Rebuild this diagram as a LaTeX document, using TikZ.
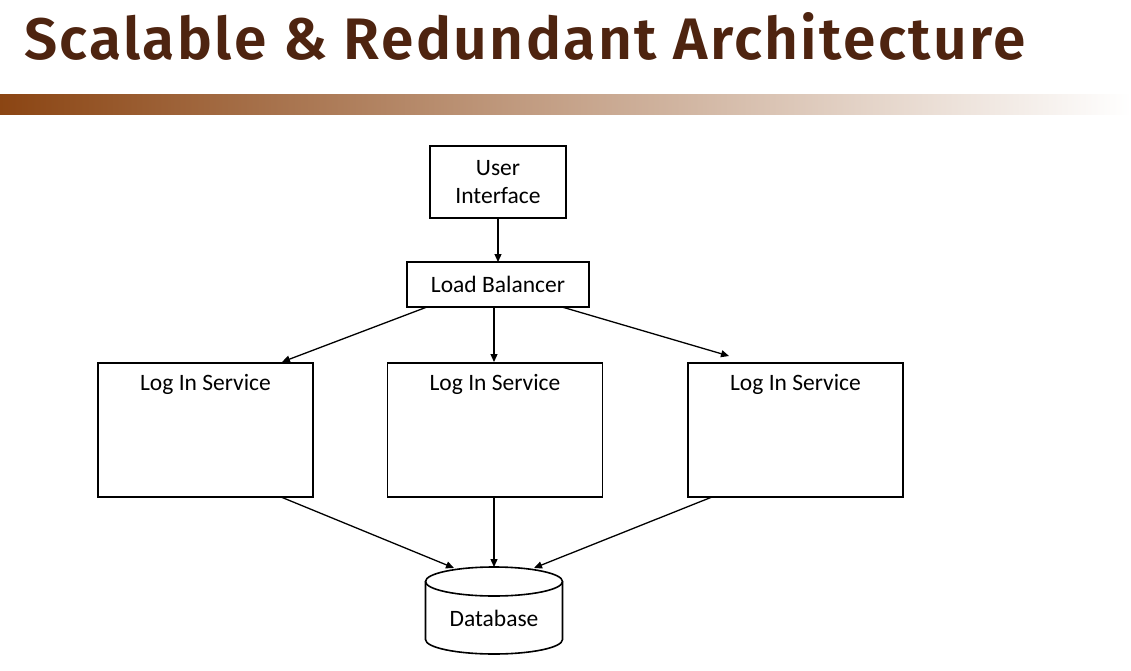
\documentclass[tikz,border=0pt]{standalone}
\usepackage{fontspec}
\setmainfont{Carlito}
\newfontfamily\titlefont{Fira Sans SemiBold}[LetterSpace=4]
\usetikzlibrary{calc,arrows.meta}
\definecolor{titlebrown}{HTML}{4E2410}
\definecolor{barbrown}{HTML}{8B4513}
\begin{document}
\begin{tikzpicture}[x=1pt,y=-1pt,
  box/.style={draw,line width=1.8pt,inner sep=0pt,outer sep=0pt},
  lbl/.style={inner sep=0pt,font=\fontsize{23.5}{28}\selectfont},
  conn/.style={line width=1.3pt,-{Triangle[length=8pt,width=7pt]}}]
\useasboundingbox (0,0) rectangle (1131,671);
\fill[white] (0,0) rectangle (1131,671);
% title
\node[anchor=base west,inner sep=0pt,text=titlebrown] (title) at (24,60)
  {\resizebox{1001pt}{47pt}{\titlefont Scalable \& Redundant Architecture}};
% gradient bar
\shade[left color=barbrown,right color=white] (0,95) rectangle (1131,115);
% nodes
\node[box,lbl,minimum width=136pt,minimum height=72pt,align=center] (ui) at (498,182) {User\\Interface};
\node[box,lbl,minimum width=182pt,minimum height=45pt] (lb) at (498,284.5) {Load Balancer};
\node[box,minimum width=215pt,minimum height=134pt] (ls1) at (205.5,430) {};
\node[box,minimum width=215pt,minimum height=134pt] (ls2) at (495,430) {};
\node[box,minimum width=215pt,minimum height=134pt] (ls3) at (795.5,430) {};
\node[lbl,anchor=base] (t1) at (205.5,390) {Log In Service};
\node[lbl,anchor=base] (t2) at (495,390) {Log In Service};
\node[lbl,anchor=base] (t3) at (795.5,390) {Log In Service};
% database cylinder
\node[inner sep=0pt,outer sep=0pt,minimum width=137pt,minimum height=87pt] (db) at (494,610.5) {};
\draw[line width=1.6pt] (425.5,581.5) -- (425.5,639.5)
  arc[start angle=180,end angle=0,x radius=68.5,y radius=14.5] -- (562.5,581.5);
\draw[line width=1.6pt] (494,581.5) ellipse[x radius=68.5,y radius=14.5];
\node[lbl] (dbt) at (494,618) {Database};
% connectors
\draw[conn] (ui.south) -- (lb.north);
\draw[conn] ($(lb.south)+(-71,0)$) -- ($(ls1.north)+(76.5,-1)$);
\draw[conn] ($(lb.south)+(-4,0)$) -- ($(ls2.north)+(-1,-1)$);
\draw[conn] ($(lb.south)+(64,0)$) -- ($(ls3.north)+(-66.5,-7)$);
\draw[conn] ($(ls1.south)+(75.5,0)$) -- ($(db.north)+(-40,1)$);
\draw[conn] ($(ls2.south)+(-1,0)$) -- (db.north);
\draw[conn] ($(ls3.south)+(-83.5,0)$) -- ($(db.north)+(40,1)$);
\end{tikzpicture}
\end{document}
